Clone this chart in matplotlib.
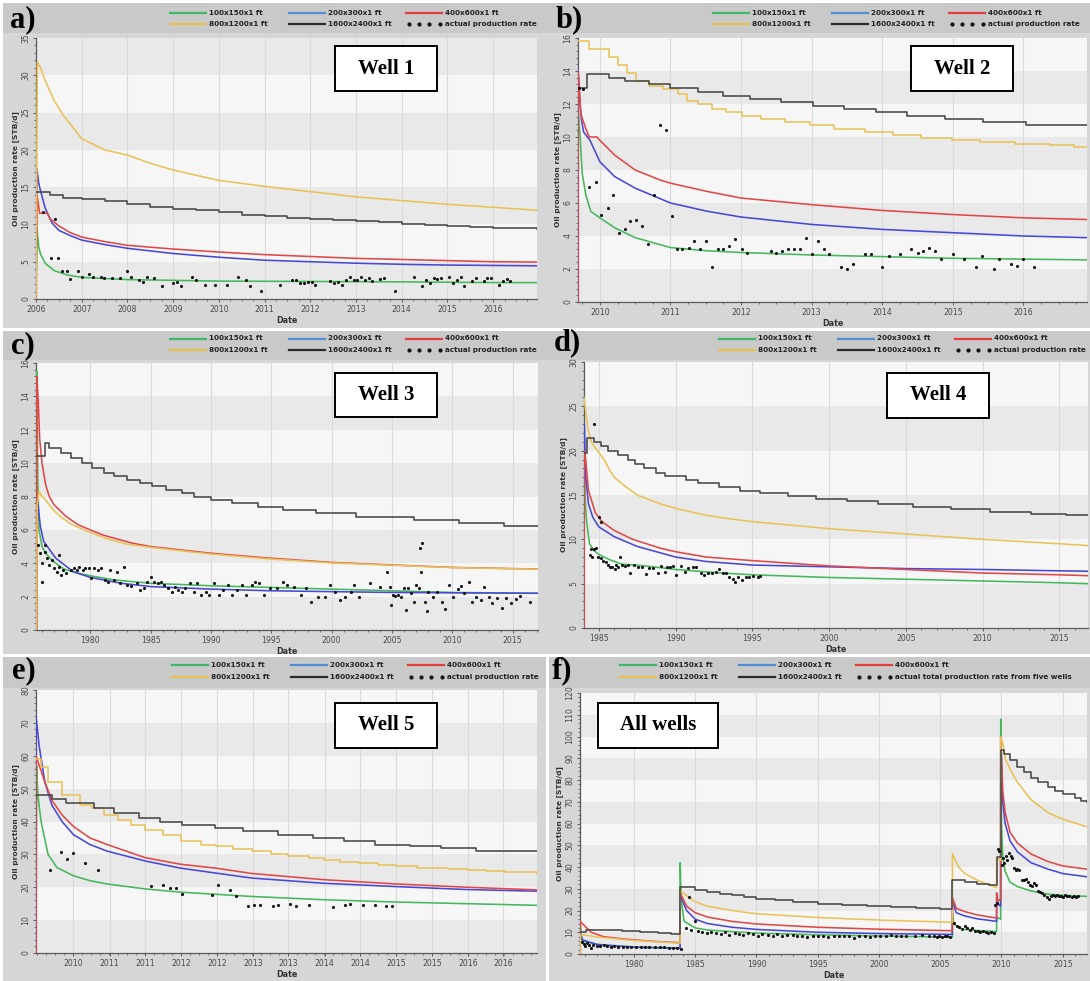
import matplotlib
matplotlib.use("Agg")
import matplotlib.pyplot as plt
from matplotlib.lines import Line2D
from matplotlib.patches import Rectangle
from matplotlib.ticker import MultipleLocator, FixedLocator, FixedFormatter

# ---------------------------------------------------------------------------
# Simulated oil production rate (STB/d) vs. time (decimal year) for five
# grid-block sizes, plus the measured production rate of each well.
# ---------------------------------------------------------------------------
GRID_SIZES = ["100x150x1 ft", "200x300x1 ft", "400x600x1 ft",
              "800x1200x1 ft", "1600x2400x1 ft"]
ACTUAL_WELL = "actual production rate"
ACTUAL_TOTAL = "actual total production rate from five wells"

# ---- Well 1 ----
W1_GREEN = [(2006.0, 0), (2006.02, 9.5), (2006.06, 7.0), (2006.1, 6.0), (2006.2, 4.8), (2006.4, 3.8),
            (2006.7, 3.2), (2007.0, 2.9), (2008.0, 2.6), (2009.0, 2.5), (2010.0, 2.4), (2012.0, 2.35),
            (2014.0, 2.3), (2016.0, 2.2), (2016.96, 2.2)]
W1_BLUE = [(2006.0, 0), (2006.02, 17.5), (2006.06, 15.5), (2006.1, 14.5), (2006.2, 12.2), (2006.35, 10.2),
           (2006.5, 9.2), (2006.75, 8.5), (2007.0, 7.9), (2007.5, 7.3), (2008.0, 6.8), (2009.0, 6.1),
           (2010.0, 5.6), (2011.0, 5.2), (2012.0, 5.0), (2013.0, 4.8), (2014.0, 4.65), (2015.0, 4.55),
           (2016.0, 4.5), (2016.96, 4.45)]
W1_RED = [(2006.0, 0), (2006.02, 14.0), (2006.08, 11.5), (2006.25, 11.5), (2006.3, 10.8), (2006.5, 9.8),
          (2006.75, 8.9), (2007.0, 8.3), (2007.5, 7.7), (2008.0, 7.2), (2009.0, 6.7), (2010.0, 6.3),
          (2011.0, 5.95), (2012.0, 5.7), (2013.0, 5.45), (2014.0, 5.3), (2015.0, 5.15), (2016.0, 5.0),
          (2016.96, 4.95)]
W1_YELLOW = [(2006.0, 0), (2006.03, 31.8), (2006.1, 31.0), (2006.2, 29.3), (2006.4, 26.6), (2006.6, 24.6),
             (2006.8, 23.1), (2007.0, 21.5), (2007.5, 20.0), (2008.0, 19.3), (2008.5, 18.2), (2009.0, 17.3),
             (2009.5, 16.6), (2010.0, 15.9), (2011.0, 15.1), (2012.0, 14.4), (2013.0, 13.7), (2014.0, 13.2),
             (2015.0, 12.7), (2016.0, 12.3), (2016.96, 11.9)]
W1_BLACK = [(2006.0, 14.3), (2006.3, 13.9), (2006.6, 13.6), (2007.0, 13.4), (2007.5, 13.1), (2008.0, 12.7),
            (2008.5, 12.4), (2009.0, 12.1), (2009.5, 11.9), (2010.0, 11.6), (2010.5, 11.3), (2011.0, 11.1),
            (2011.5, 10.9), (2012.0, 10.7), (2012.5, 10.6), (2013.0, 10.5), (2013.5, 10.3), (2014.0, 10.1),
            (2014.5, 9.95), (2015.0, 9.8), (2015.5, 9.65), (2016.0, 9.5), (2016.96, 9.4)]
W1_ACTUAL = [(2006.15, 11.7), (2006.32, 5.5), (2006.41, 10.7), (2006.49, 5.5), (2006.57, 3.7), (2006.67, 3.8),
             (2006.74, 2.7), (2006.92, 3.8), (2007.0, 2.9), (2007.16, 3.3), (2007.24, 2.9), (2007.42, 2.9),
             (2007.49, 2.8), (2007.66, 2.8), (2007.83, 2.8), (2008.0, 3.8), (2008.08, 2.9), (2008.25, 2.5),
             (2008.33, 2.3), (2008.42, 2.9), (2008.59, 2.8), (2008.75, 1.8), (2009.0, 2.2), (2009.09, 2.3),
             (2009.17, 1.8), (2009.42, 2.9), (2009.5, 2.5), (2009.69, 1.9), (2009.92, 1.9), (2010.18, 1.9),
             (2010.42, 2.9), (2010.59, 2.6), (2010.68, 1.8), (2010.93, 1.1), (2011.34, 1.9), (2011.6, 2.6),
             (2011.69, 2.5), (2011.77, 2.1), (2011.86, 2.1), (2011.94, 2.3), (2012.03, 2.3), (2012.11, 1.9),
             (2012.44, 2.4), (2012.51, 2.1), (2012.6, 2.3), (2012.69, 1.9), (2012.78, 2.5), (2012.86, 2.9),
             (2012.95, 2.5), (2013.03, 2.5), (2013.12, 2.9), (2013.19, 2.5), (2013.28, 2.8), (2013.36, 2.4),
             (2013.53, 2.7), (2013.61, 2.8), (2013.86, 1.1), (2014.28, 2.9), (2014.45, 1.8), (2014.54, 2.5),
             (2014.62, 2.2), (2014.7, 2.8), (2014.78, 2.7), (2014.87, 2.8), (2015.04, 2.9), (2015.12, 2.1),
             (2015.21, 2.5), (2015.29, 2.9), (2015.37, 1.8), (2015.54, 2.4), (2015.62, 2.8), (2015.79, 2.4),
             (2015.87, 2.8), (2015.96, 2.8), (2016.13, 1.9), (2016.21, 2.4), (2016.31, 2.7), (2016.38, 2.4)]

# ---- Well 2 ----
W2_GREEN = [(2009.69, 0), (2009.69, 12.0), (2009.72, 10.0), (2009.75, 7.8), (2009.8, 6.5), (2009.87, 5.5),
            (2010.0, 5.1), (2010.21, 4.5), (2010.5, 3.9), (2011.0, 3.3), (2011.52, 3.1), (2012.0, 3.0),
            (2013.0, 2.85), (2014.0, 2.75), (2015.0, 2.65), (2016.0, 2.6), (2016.9, 2.55)]
W2_BLUE = [(2009.69, 0), (2009.69, 14.2), (2009.72, 12.0), (2009.74, 11.0), (2009.77, 10.3), (2009.86, 9.8),
           (2010.0, 8.5), (2010.21, 7.6), (2010.5, 6.9), (2011.0, 6.0), (2011.52, 5.5), (2012.0, 5.15),
           (2013.0, 4.7), (2014.0, 4.4), (2015.0, 4.2), (2016.0, 4.0), (2016.9, 3.9)]
W2_RED = [(2009.69, 0), (2009.69, 14.0), (2009.73, 11.4), (2009.8, 10.5), (2009.85, 10.0), (2009.96, 10.0),
          (2010.0, 9.8), (2010.21, 8.9), (2010.5, 8.0), (2010.85, 7.4), (2011.0, 7.2), (2011.52, 6.7),
          (2012.0, 6.3), (2013.0, 5.9), (2014.0, 5.55), (2015.0, 5.3), (2016.0, 5.1), (2016.9, 5.0)]
W2_YELLOW = [(2009.69, 15.8), (2009.85, 15.35), (2010.13, 14.85), (2010.26, 14.35), (2010.38, 13.9),
             (2010.51, 13.4), (2010.7, 13.1), (2010.9, 12.9), (2011.1, 12.6), (2011.24, 12.2), (2011.39, 12.0),
             (2011.59, 11.7), (2011.78, 11.5), (2012.01, 11.3), (2012.28, 11.1), (2012.62, 10.9),
             (2012.97, 10.7), (2013.31, 10.5), (2013.76, 10.3), (2014.15, 10.1), (2014.55, 9.95),
             (2014.99, 9.8), (2015.38, 9.7), (2015.88, 9.6), (2016.37, 9.5), (2016.72, 9.4), (2016.9, 9.4)]
W2_BLACK = [(2009.69, 13.0), (2009.82, 13.8), (2010.13, 13.6), (2010.36, 13.4), (2010.7, 13.2),
            (2011.0, 12.95), (2011.39, 12.75), (2011.74, 12.5), (2012.13, 12.3), (2012.57, 12.1),
            (2013.02, 11.9), (2013.46, 11.7), (2013.91, 11.5), (2014.35, 11.3), (2014.89, 11.1),
            (2015.43, 10.9), (2016.03, 10.75), (2016.47, 10.7), (2016.9, 10.7)]
W2_ACTUAL = [(2009.7, 13.0), (2009.76, 12.9), (2009.85, 7.0), (2009.94, 7.3), (2010.02, 5.3), (2010.11, 5.7),
             (2010.18, 6.5), (2010.27, 4.2), (2010.35, 4.4), (2010.43, 4.9), (2010.51, 5.0), (2010.6, 4.6),
             (2010.68, 3.5), (2010.76, 6.5), (2010.85, 10.7), (2010.93, 10.4), (2011.02, 5.2), (2011.09, 3.2),
             (2011.17, 3.2), (2011.26, 3.3), (2011.34, 3.7), (2011.42, 3.2), (2011.5, 3.7), (2011.59, 2.1),
             (2011.67, 3.2), (2011.75, 3.2), (2011.83, 3.4), (2011.91, 3.8), (2012.01, 3.2), (2012.09, 3.0),
             (2012.43, 3.1), (2012.5, 3.0), (2012.58, 3.1), (2012.67, 3.2), (2012.75, 3.2), (2012.84, 3.2),
             (2012.92, 3.9), (2013.01, 2.9), (2013.09, 3.7), (2013.17, 3.2), (2013.25, 2.9), (2013.42, 2.1),
             (2013.5, 2.0), (2013.58, 2.3), (2013.75, 2.9), (2013.84, 2.9), (2014.0, 2.1), (2014.09, 2.8),
             (2014.25, 2.9), (2014.41, 3.2), (2014.5, 3.0), (2014.58, 3.1), (2014.66, 3.3), (2014.74, 3.1),
             (2014.83, 2.6), (2015.0, 2.9), (2015.16, 2.6), (2015.33, 2.1), (2015.41, 2.8), (2015.58, 2.0),
             (2015.66, 2.6), (2015.83, 2.3), (2015.91, 2.2), (2015.99, 2.6), (2016.15, 2.1)]

# ---- Well 3 ----
W3_GREEN = [(1975.55, 0), (1975.57, 15.5), (1975.65, 9.0), (1975.75, 6.0), (1976.0, 5.0), (1976.3, 4.6),
            (1976.8, 4.2), (1977.5, 3.8), (1978.0, 3.6), (1979.0, 3.4), (1980.0, 3.25), (1982.0, 3.0),
            (1985.0, 2.8), (1990.0, 2.65), (1995.0, 2.55), (2000.0, 2.45), (2005.0, 2.35), (2010.0, 2.25),
            (2017.1, 2.2)]
W3_BLUE = [(1975.55, 0), (1975.6, 8.0), (1975.86, 6.2), (1976.14, 5.3), (1977.14, 4.3), (1978.57, 3.5),
           (1980.0, 3.15), (1982.57, 2.8), (1985.0, 2.6), (1990.0, 2.45), (1995.0, 2.35), (2000.0, 2.3),
           (2005.0, 2.25), (2017.1, 2.2)]
W3_RED = [(1975.55, 0), (1975.57, 15.2), (1975.7, 13.5), (1975.8, 11.5), (1976.0, 10.0), (1976.3, 8.7),
          (1976.6, 8.0), (1977.0, 7.5), (1978.0, 6.8), (1979.0, 6.3), (1980.0, 6.0), (1981.0, 5.7),
          (1982.0, 5.5), (1983.5, 5.2), (1985.0, 5.0), (1987.5, 4.8), (1990.0, 4.6), (1992.5, 4.45),
          (1995.0, 4.3), (2000.0, 4.05), (2005.0, 3.9), (2010.0, 3.75), (2017.1, 3.65)]
W3_YELLOW = [(1975.55, 0), (1975.6, 7.5), (1975.75, 8.3), (1976.0, 8.0), (1976.3, 7.8), (1976.8, 7.3),
             (1977.5, 6.8), (1978.5, 6.3), (1979.5, 6.0), (1980.5, 5.7), (1981.5, 5.45), (1983.0, 5.15),
             (1985.0, 4.95), (1987.5, 4.75), (1990.0, 4.55), (1995.0, 4.25), (2000.0, 4.02), (2005.0, 3.88),
             (2010.0, 3.74), (2017.1, 3.64)]
W3_BLACK = [(1975.55, 10.4), (1976.23, 11.2), (1976.57, 10.9), (1977.57, 10.6), (1978.43, 10.3),
            (1979.29, 10.0), (1980.14, 9.7), (1981.14, 9.4), (1982.0, 9.2), (1983.0, 9.0), (1984.14, 8.8),
            (1985.14, 8.6), (1986.29, 8.4), (1987.57, 8.2), (1988.57, 8.0), (1990.0, 7.8), (1991.71, 7.6),
            (1993.86, 7.4), (1996.0, 7.2), (1998.71, 7.0), (2002.0, 6.8), (2006.86, 6.6), (2010.57, 6.4),
            (2014.29, 6.25), (2017.1, 6.25)]
W3_ACTUAL = [(1975.63, 5.1), (1975.8, 4.6), (1976.0, 4.0), (1976.02, 2.9), (1976.23, 5.1), (1976.25, 4.7),
             (1976.43, 4.3), (1976.57, 3.9), (1976.8, 4.2), (1977.0, 3.7), (1977.2, 3.5), (1977.37, 3.8),
             (1977.43, 4.5), (1977.57, 3.3), (1977.71, 3.6), (1978.0, 3.4), (1978.43, 3.6), (1978.63, 3.7),
             (1978.86, 3.6), (1979.09, 3.8), (1979.37, 3.6), (1979.57, 3.7), (1979.86, 3.7), (1980.06, 3.1),
             (1980.34, 3.7), (1980.63, 3.6), (1980.91, 3.7), (1981.2, 3.0), (1981.43, 2.9), (1981.66, 3.6),
             (1981.94, 3.0), (1982.23, 3.5), (1982.43, 2.8), (1982.8, 3.8), (1983.0, 2.7), (1983.37, 2.65),
             (1983.86, 2.8), (1984.14, 2.4), (1984.43, 2.5), (1984.71, 2.9), (1985.03, 3.2), (1985.29, 2.9),
             (1985.57, 2.8), (1985.86, 2.9), (1986.14, 2.7), (1986.43, 2.5), (1986.74, 2.3), (1987.03, 2.6),
             (1987.29, 2.4), (1987.57, 2.3), (1987.86, 2.5), (1988.29, 2.8), (1988.57, 2.3), (1988.86, 2.8),
             (1989.2, 2.1), (1989.57, 2.3), (1989.86, 2.1), (1990.29, 2.8), (1990.63, 2.1), (1991.0, 2.4),
             (1991.43, 2.7), (1991.77, 2.1), (1992.14, 2.4), (1992.57, 2.7), (1992.91, 2.1), (1993.37, 2.7),
             (1993.66, 2.9), (1994.0, 2.8), (1994.43, 2.1), (1994.86, 2.5), (1995.43, 2.5), (1996.0, 2.9),
             (1996.29, 2.7), (1996.86, 2.6), (1997.43, 2.1), (1997.86, 2.5), (1998.29, 1.7), (1998.86, 2.0),
             (1999.43, 2.0), (1999.86, 2.7), (2000.29, 2.3), (2000.71, 1.8), (2001.14, 2.0), (2001.57, 2.3),
             (2001.86, 2.7), (2002.29, 2.0), (2003.14, 2.8), (2004.0, 2.6), (2004.57, 3.5), (2004.8, 2.6),
             (2004.91, 1.5), (2005.09, 2.1), (2005.29, 2.05), (2005.49, 2.1), (2005.71, 1.95), (2006.0, 2.5),
             (2006.14, 1.2), (2006.29, 2.5), (2006.57, 2.2), (2006.8, 1.65), (2007.0, 2.7), (2007.2, 2.5),
             (2007.29, 4.9), (2007.37, 3.5), (2007.49, 5.2), (2007.71, 1.65), (2007.94, 1.15), (2008.0, 2.3),
             (2008.43, 2.0), (2008.71, 2.3), (2009.14, 1.7), (2009.43, 1.25), (2009.71, 2.7), (2010.06, 2.0),
             (2010.43, 2.45), (2010.71, 2.65), (2011.0, 2.2), (2011.37, 2.9), (2011.66, 1.65), (2011.94, 2.0),
             (2012.34, 1.8), (2012.63, 2.6), (2013.0, 2.0), (2013.29, 1.6), (2013.71, 1.9), (2014.14, 1.3),
             (2014.43, 1.9), (2014.86, 1.6), (2015.29, 1.85), (2015.57, 2.05), (2016.43, 1.7)]

# ---- Well 4 ----
W4_GREEN = [(1984.03, 0), (1984.05, 18.0), (1984.12, 14.0), (1984.2, 12.0), (1984.39, 9.5), (1984.7, 8.7),
            (1985.0, 8.3), (1985.7, 7.7), (1986.5, 7.2), (1988.0, 7.0), (1990.0, 6.6), (1993.0, 6.2),
            (1995.0, 6.0), (2000.0, 5.7), (2005.0, 5.5), (2010.0, 5.3), (2015.0, 5.1), (2016.86, 5.0)]
W4_BLUE = [(1984.03, 0), (1984.05, 23.0), (1984.14, 17.0), (1984.32, 14.0), (1984.6, 12.5), (1985.0, 11.4),
           (1986.0, 10.3), (1987.5, 9.2), (1990.0, 8.0), (1992.0, 7.5), (1995.0, 7.1), (2000.0, 6.9),
           (2005.0, 6.7), (2010.0, 6.6), (2015.0, 6.45), (2016.86, 6.4)]
W4_RED = [(1984.03, 0), (1984.05, 20.0), (1984.14, 19.0), (1984.32, 15.5), (1984.77, 13.0), (1985.2, 12.0),
          (1986.0, 11.0), (1987.2, 10.0), (1989.0, 9.0), (1990.0, 8.6), (1992.0, 8.0), (1995.0, 7.6),
          (2000.0, 7.0), (2005.0, 6.6), (2010.0, 6.2), (2015.0, 6.0), (2016.86, 5.9)]
W4_YELLOW = [(1984.03, 26.0), (1984.14, 24.5), (1984.3, 22.3), (1984.5, 21.0), (1984.77, 20.3),
             (1985.34, 19.0), (1985.7, 17.8), (1986.0, 17.0), (1986.7, 16.0), (1987.5, 15.0), (1989.0, 14.0),
             (1990.0, 13.5), (1992.0, 12.7), (1994.0, 12.2), (1995.0, 12.0), (2000.0, 11.2), (2005.0, 10.6),
             (2010.0, 10.0), (2015.0, 9.5), (2016.86, 9.3)]
W4_BLACK = [(1984.03, 19.7), (1984.21, 21.4), (1984.66, 21.0), (1985.11, 20.5), (1985.57, 20.0),
            (1986.24, 19.5), (1986.92, 19.0), (1987.38, 18.5), (1987.94, 18.0), (1988.73, 17.5),
            (1989.3, 17.1), (1990.66, 16.7), (1991.45, 16.3), (1992.81, 15.9), (1994.16, 15.5),
            (1995.52, 15.2), (1997.33, 14.9), (1999.14, 14.6), (2001.18, 14.3), (2003.21, 14.0),
            (2005.48, 13.7), (2007.96, 13.4), (2010.45, 13.1), (2013.17, 12.9), (2015.43, 12.8),
            (2016.86, 12.8)]
W4_ACTUAL = [(1984.39, 8.2), (1984.48, 8.9), (1984.57, 8.0), (1984.66, 8.9), (1984.71, 23.0), (1984.82, 9.0),
             (1984.93, 8.0), (1985.0, 12.5), (1985.11, 7.85), (1985.16, 11.9), (1985.29, 7.6), (1985.45, 7.5),
             (1985.57, 7.1), (1985.7, 6.85), (1985.84, 6.85), (1986.02, 6.6), (1986.13, 7.1), (1986.24, 6.9),
             (1986.36, 8.0), (1986.52, 7.1), (1986.7, 7.0), (1986.88, 7.1), (1987.04, 6.15), (1987.26, 7.1),
             (1987.56, 6.9), (1987.83, 6.9), (1988.05, 6.1), (1988.28, 6.8), (1988.55, 6.8), (1988.85, 6.15),
             (1989.07, 7.0), (1989.3, 6.35), (1989.41, 6.9), (1989.64, 6.9), (1989.82, 7.0), (1990.05, 6.0),
             (1990.36, 7.0), (1990.59, 6.35), (1990.81, 6.8), (1991.11, 6.85), (1991.33, 6.85), (1991.63, 6.15),
             (1991.86, 6.0), (1992.13, 6.15), (1992.35, 6.15), (1992.62, 6.35), (1992.85, 6.6), (1993.08, 6.15),
             (1993.26, 6.25), (1993.48, 5.8), (1993.71, 5.5), (1993.89, 5.2), (1994.05, 5.8), (1994.32, 5.45),
             (1994.55, 5.7), (1994.8, 5.7), (1995.02, 5.9), (1995.34, 5.8), (1995.52, 5.9)]

# ---- Well 5 ----
W5_GREEN = [(2009.0, 0), (2009.01, 57), (2009.03, 48), (2009.08, 40), (2009.19, 30), (2009.33, 26),
            (2009.59, 23.5), (2009.85, 22), (2010.12, 21), (2010.72, 19.5), (2011.28, 18.5), (2012.4, 17.2),
            (2013.54, 16.2), (2014.68, 15.5), (2015.8, 15.0), (2016.9, 14.5)]
W5_BLUE = [(2009.0, 0), (2009.0, 72), (2009.05, 63), (2009.14, 52), (2009.25, 45), (2009.41, 40),
           (2009.59, 36), (2009.85, 33), (2010.12, 31), (2010.72, 28), (2011.28, 25.8), (2011.84, 24.3),
           (2012.4, 22.8), (2013.54, 21.2), (2014.68, 20.2), (2015.8, 19.3), (2016.9, 18.8)]
W5_RED = [(2009.0, 0), (2009.0, 60), (2009.14, 52), (2009.25, 46.5), (2009.41, 42), (2009.59, 38.5),
          (2009.85, 35), (2010.12, 33), (2010.72, 29), (2011.28, 27), (2011.84, 25.8), (2012.4, 24.2),
          (2013.54, 22.3), (2014.68, 21.0), (2015.8, 20.0), (2016.9, 19.2)]
W5_YELLOW = [(2009.0, 59), (2009.08, 56.5), (2009.19, 52), (2009.41, 48), (2009.7, 45), (2009.88, 44),
             (2010.07, 42), (2010.29, 40.5), (2010.5, 39), (2010.72, 37.5), (2011.0, 35.8), (2011.28, 34.2),
             (2011.6, 33), (2011.84, 32.4), (2012.1, 31.5), (2012.4, 30.9), (2012.7, 30.0), (2012.97, 29.4),
             (2013.3, 28.8), (2013.54, 28.2), (2013.8, 27.7), (2014.1, 27.3), (2014.4, 26.8), (2014.68, 26.5),
             (2015.0, 26.0), (2015.25, 25.8), (2015.5, 25.4), (2015.8, 25.2), (2016.1, 24.8), (2016.4, 24.5),
             (2016.9, 24.1)]
W5_BLACK = [(2009.0, 48), (2009.25, 46.8), (2009.47, 45.5), (2009.91, 44), (2010.23, 42.5), (2010.62, 41),
            (2010.95, 40), (2011.3, 39), (2011.83, 38), (2012.26, 37), (2012.81, 36), (2013.36, 35),
            (2013.85, 34), (2014.35, 33), (2014.9, 32.5), (2015.39, 32), (2015.94, 31), (2016.9, 31)]
W5_ACTUAL = [(2009.22, 25.1), (2009.4, 30.6), (2009.49, 28.6), (2009.59, 30.4), (2009.78, 27.3),
             (2009.98, 25.3), (2010.82, 20.5), (2011.01, 20.7), (2011.11, 19.9), (2011.21, 19.9),
             (2011.3, 17.9), (2011.78, 17.7), (2011.87, 20.8), (2012.06, 19.2), (2012.15, 17.4),
             (2012.34, 14.2), (2012.44, 14.6), (2012.54, 14.6), (2012.73, 14.4), (2012.81, 14.6),
             (2013.0, 14.9), (2013.1, 14.4), (2013.3, 14.6), (2013.68, 14.0), (2013.87, 14.7), (2013.95, 14.8),
             (2014.15, 14.7), (2014.34, 14.6), (2014.52, 14.4), (2014.62, 14.2)]
W5_TICKS = [2009.59, 2010.16, 2010.72, 2011.29, 2011.85, 2012.42, 2012.98, 2013.55, 2014.11,
            2014.68, 2015.24, 2015.81, 2016.37]
W5_TICK_LABELS = ["2010", "2011", "2011", "2012", "2012", "2013", "2013", "2014", "2014",
                  "2015", "2015", "2016", "2016"]

# ---- All wells (field total) ----
ALL_GREEN = [(1975.6, 0), (1975.62, 15), (1975.75, 6), (1977.0, 4.5), (1978.0, 4.0), (1980.0, 3.3),
             (1982.0, 3.0), (1983.77, 2.8), (1983.78, 42), (1983.85, 25), (1984.1, 15), (1985.0, 12),
             (1986.0, 11), (1988.0, 10.3), (1990.0, 9.6), (1995.0, 8.8), (2000.0, 8.3), (2005.0, 7.8),
             (2005.99, 7.7), (2006.0, 18), (2006.1, 14), (2006.5, 12), (2007.0, 11.3), (2008.0, 10.8),
             (2009.6, 10.3), (2009.61, 17), (2009.93, 16), (2009.94, 108), (2010.0, 60), (2010.1, 45),
             (2010.3, 38), (2010.7, 33), (2011.3, 31), (2012.4, 29), (2013.8, 27.5), (2015.0, 27),
             (2016.98, 26.5)]
ALL_BLUE = [(1975.6, 0), (1975.62, 10), (1975.8, 6.5), (1977.0, 4.3), (1980.0, 3.1), (1983.77, 2.6),
            (1983.78, 27), (1984.3, 20), (1985.0, 16), (1986.0, 14), (1988.0, 12.3), (1990.0, 11.3),
            (1995.0, 10.0), (2000.0, 9.4), (2005.99, 9.0), (2006.0, 25), (2006.3, 19), (2007.0, 17.5),
            (2008.0, 16.2), (2009.6, 15.0), (2009.61, 28), (2009.7, 23), (2009.93, 22), (2009.94, 100),
            (2010.1, 70), (2010.3, 60), (2010.7, 52), (2011.3, 47), (2012.4, 42), (2013.8, 39),
            (2015.0, 37), (2016.98, 35.5)]
ALL_RED = [(1975.6, 0), (1975.62, 15), (1976.5, 10), (1977.5, 8), (1979.0, 7), (1980.0, 6.5),
           (1982.0, 5.7), (1983.77, 5.2), (1983.78, 28), (1984.3, 22), (1985.0, 19), (1986.0, 17),
           (1988.0, 15), (1990.0, 13.8), (1995.0, 12.3), (2000.0, 11.4), (2005.99, 10.7), (2006.0, 26),
           (2006.3, 21), (2007.0, 19.5), (2008.0, 18), (2009.6, 16.5), (2009.61, 28), (2009.7, 25),
           (2009.93, 24.5), (2009.94, 100), (2010.1, 75), (2010.3, 65), (2010.7, 56), (2011.3, 51),
           (2012.4, 46), (2013.8, 42.5), (2015.0, 40.5), (2016.98, 39)]
ALL_YELLOW = [(1975.6, 0), (1975.65, 9), (1977.0, 7.8), (1980.0, 6.2), (1983.77, 5.0), (1983.78, 29),
              (1984.5, 26), (1985.0, 24), (1986.0, 22), (1988.0, 20), (1990.0, 18.5), (1995.0, 16.8),
              (2000.0, 15.6), (2005.99, 14.6), (2006.0, 46), (2006.5, 40), (2007.0, 37), (2008.0, 34),
              (2009.6, 30.5), (2009.61, 44), (2009.93, 43), (2009.94, 100), (2010.15, 96), (2010.3, 90),
              (2010.7, 85), (2011.3, 79), (2012.4, 71), (2013.8, 65), (2015.0, 62), (2016.98, 58.5)]
ALL_BLACK = [(1975.6, 10), (1976.1, 11.2), (1977.5, 10.9), (1979.0, 10.5), (1980.5, 10.1), (1982.0, 9.7),
             (1983.0, 9.3), (1983.77, 30.6), (1985.0, 29.6), (1986.0, 28.6), (1987.0, 27.8), (1988.0, 27.0),
             (1989.0, 26.2), (1990.0, 25.5), (1991.5, 24.6), (1993.0, 23.8), (1995.0, 23.0), (1997.0, 22.5),
             (1999.0, 22.0), (2001.0, 21.5), (2003.0, 21.1), (2005.0, 20.7), (2005.99, 34.0), (2007.0, 33.2),
             (2008.0, 32.3), (2009.0, 31.6), (2009.6, 44.5), (2009.94, 94.0), (2010.2, 92.0), (2010.7, 89.0),
             (2011.3, 86.0), (2011.8, 83.5), (2012.4, 81.0), (2013.0, 79.0), (2013.8, 77.0), (2014.4, 75.0),
             (2015.0, 73.5), (2016.0, 71.5), (2016.5, 70.5), (2016.98, 70.0)]
ALL_ACTUAL = [(1975.75, 5.4), (1975.9, 4.6), (1976.03, 3.8), (1976.18, 5.1), (1976.3, 4.3), (1976.46, 2.8),
              (1976.69, 4.3), (1976.97, 3.8), (1977.25, 3.5), (1977.54, 4.0), (1977.82, 3.5), (1978.1, 3.4),
              (1978.39, 3.5), (1978.73, 3.4), (1979.07, 3.2), (1979.43, 3.4), (1979.8, 3.2), (1980.2, 3.4),
              (1980.57, 3.1), (1980.93, 3.2), (1981.27, 3.1), (1981.7, 3.2), (1982.12, 3.4), (1982.46, 3.1),
              (1982.86, 2.8), (1983.2, 2.6), (1983.54, 2.8), (1983.82, 2.3),
              (1984.25, 12.0), (1984.53, 26.0), (1984.67, 11.2), (1984.96, 15.0), (1985.24, 10.4),
              (1985.58, 10.0), (1985.95, 9.7), (1986.32, 10.3), (1986.71, 9.7), (1987.08, 9.3), (1987.45, 10.0),
              (1987.79, 8.9), (1988.22, 9.7), (1988.58, 9.3), (1988.92, 8.9), (1989.35, 9.7), (1989.72, 9.2),
              (1990.11, 8.4), (1990.48, 9.3), (1990.91, 8.9), (1991.33, 8.4), (1991.7, 9.2), (1992.1, 8.4),
              (1992.52, 8.7), (1992.95, 8.9), (1993.31, 8.1), (1993.74, 8.4), (1994.16, 7.8), (1994.59, 8.4),
              (1995.01, 8.1), (1995.44, 8.4), (1995.86, 7.8), (1996.29, 8.4), (1996.71, 8.1), (1997.14, 8.4),
              (1997.56, 8.1), (1997.99, 7.4), (1998.41, 8.1), (1998.84, 8.4), (1999.26, 7.8), (1999.69, 8.1),
              (2000.11, 8.4), (2000.54, 8.1), (2000.96, 8.6), (2001.39, 8.1), (2001.81, 8.4), (2002.24, 8.1),
              (2002.95, 8.4), (2003.51, 8.6), (2004.08, 8.4), (2004.5, 8.1), (2004.73, 7.8), (2004.93, 8.4),
              (2005.13, 7.8), (2005.35, 8.1), (2005.58, 8.4), (2005.78, 7.8),
              (2006.15, 14.3), (2006.35, 13.0), (2006.54, 12.4), (2006.77, 11.5), (2007.0, 13.0),
              (2007.2, 12.0), (2007.39, 10.9), (2007.62, 12.0), (2007.85, 10.4), (2008.05, 10.7),
              (2008.24, 10.0), (2008.47, 10.4), (2008.7, 10.0), (2008.92, 9.7), (2009.15, 10.1), (2009.38, 9.7),
              (2009.49, 22.5), (2009.6, 23.4), (2009.69, 48.4), (2009.83, 47.2), (2010.03, 41.1),
              (2010.11, 44.1), (2010.23, 41.8), (2010.34, 45.2), (2010.45, 43.4), (2010.59, 46.4),
              (2010.74, 45.2), (2010.88, 44.1), (2011.02, 39.5), (2011.16, 38.8), (2011.3, 39.1),
              (2011.44, 38.5), (2011.64, 33.9), (2011.81, 34.2), (2011.98, 34.5), (2012.15, 33.1),
              (2012.32, 31.9), (2012.49, 31.1), (2012.66, 32.6), (2012.83, 31.9), (2013.0, 28.8),
              (2013.17, 28.4), (2013.34, 28.0), (2013.51, 27.3), (2013.68, 26.2), (2013.85, 25.3),
              (2014.02, 26.8), (2014.19, 27.3), (2014.36, 26.5), (2014.53, 27.0), (2014.7, 26.5),
              (2014.87, 26.8), (2015.04, 26.2), (2015.21, 27.0), (2015.38, 26.5), (2015.55, 26.8),
              (2015.72, 26.2), (2015.89, 26.5), (2016.06, 26.2), (2016.23, 26.8)]

# ---------------------------------------------------------------------------
# Styling
# ---------------------------------------------------------------------------
W, H = 1090, 981
LINE_COLORS = ["#45b85a", "#4848d6", "#e04848", "#e9c257", "#474747"]
LEGEND_COLORS = ["#3db76a", "#4f8fd6", "#e23e3e", "#e8c050", "#2b2b2b"]
HEADER_GRAY = "#c9c9c9"
BODY_GRAY = "#d6d6d6"
BAND_LIGHT = "#f6f6f6"
BAND_DARK = "#e9e9e9"
SERIF = ["Liberation Serif", "DejaVu Serif"]

fig = plt.figure(figsize=(W / 100, H / 100), dpi=100, facecolor="white")


def px_rect(x0, y0, x1, y1, **kw):
    """Rectangle given in image pixels (origin top-left) on the figure."""
    r = Rectangle((x0 / W, 1 - y1 / H), (x1 - x0) / W, (y1 - y0) / H,
                  transform=fig.transFigure, **kw)
    fig.patches.append(r)
    return r


# gray panel backgrounds: (top, bottom, header bottom)
for top, bot, hdr in [(3, 328, 33), (331, 654, 360), (657, 981, 688)]:
    px_rect(3, top, W, bot, facecolor=BODY_GRAY, edgecolor="none", zorder=-2)
    px_rect(3, top, W, hdr, facecolor=HEADER_GRAY, edgecolor="none", zorder=-1)
px_rect(546, 657, 549, 981, facecolor="white", edgecolor="none", zorder=-1)

PANELS = [
    dict(tag="a)", tag_xy=(10, 27), title="Well 1", box=(335, 46, 437, 91),
         rect=(36, 38, 537, 299), legend_x=170, legend_y=(12.7, 24),
         curves=[W1_GREEN, W1_BLUE, W1_RED, W1_YELLOW, W1_BLACK], actual=W1_ACTUAL,
         stepped=(4,), xlim=(2006.0, 2016.96), xmajor=1, xminor=0.25,
         ylim=(0, 35), ystep=5, actual_label=ACTUAL_WELL),
    dict(tag="b)", tag_xy=(556, 27), title="Well 2", box=(911, 46, 1013, 91),
         rect=(578, 38, 1087, 302), legend_x=713, legend_y=(12.7, 24),
         curves=[W2_GREEN, W2_BLUE, W2_RED, W2_YELLOW, W2_BLACK], actual=W2_ACTUAL,
         stepped=(3, 4), xlim=(2009.69, 2016.9), xmajor=1, xminor=0.25,
         ylim=(0, 16), ystep=2, actual_label=ACTUAL_WELL),
    dict(tag="c)", tag_xy=(11, 353), title="Well 3", box=(335, 373, 437, 417),
         rect=(36, 363, 538, 630), legend_x=170, legend_y=(338.5, 350),
         curves=[W3_GREEN, W3_BLUE, W3_RED, W3_YELLOW, W3_BLACK], actual=W3_ACTUAL,
         stepped=(4,), xlim=(1975.5, 2017.1), xmajor=5, xminor=1,
         ylim=(0, 16), ystep=2, actual_label=ACTUAL_WELL),
    dict(tag="d)", tag_xy=(554, 350), title="Well 4", box=(887, 373, 989, 418),
         rect=(584, 362, 1088, 628), legend_x=719, legend_y=(338.5, 350),
         curves=[W4_GREEN, W4_BLUE, W4_RED, W4_YELLOW, W4_BLACK], actual=W4_ACTUAL,
         stepped=(4,), xlim=(1984.03, 2016.86), xmajor=5, xminor=1,
         ylim=(0, 30), ystep=5, actual_label=ACTUAL_WELL),
    dict(tag="e)", tag_xy=(12, 678), title="Well 5", box=(335, 703, 437, 748),
         rect=(36, 690, 537, 953), legend_x=172, legend_y=(665, 677),
         curves=[W5_GREEN, W5_BLUE, W5_RED, W5_YELLOW, W5_BLACK], actual=W5_ACTUAL,
         stepped=(3, 4), xlim=(2009.0, 2016.9), xticks=(W5_TICKS, W5_TICK_LABELS), xminor=0.1415,
         ylim=(0, 80), ystep=10, actual_label=ACTUAL_WELL),
    dict(tag="f)", tag_xy=(552, 678), title="All wells", box=(598, 703, 718, 748),
         rect=(580, 693, 1087, 954), legend_x=620, legend_y=(665, 677),
         curves=[ALL_GREEN, ALL_BLUE, ALL_RED, ALL_YELLOW, ALL_BLACK], actual=ALL_ACTUAL,
         stepped=(4,), xlim=(1975.6, 2016.98), xmajor=5, xminor=1,
         ylim=(0, 120), ystep=10, actual_label=ACTUAL_TOTAL),
]

LEGEND_COL_OFFSETS = [0, 119, 236]
TICK_COLOR = "#4a4a4a"


def draw_panel(p):
    l, t, r, b = p["rect"]
    ax = fig.add_axes([l / W, 1 - b / H, (r - l) / W, (b - t) / H])
    ax.set_facecolor(BAND_LIGHT)
    y0, y1 = p["ylim"]
    dy = p["ystep"]
    nb = round((y1 - y0) / dy)
    for i in range(0, nb, 2):
        ax.axhspan(y0 + i * dy, y0 + (i + 1) * dy, color=BAND_DARK, lw=0, zorder=0)

    for k, pts in enumerate(p["curves"]):
        tt = [v[0] for v in pts]
        qq = [v[1] for v in pts]
        ax.plot(tt, qq, color=LINE_COLORS[k], lw=1.15, zorder=3,
                drawstyle="steps-post" if k in p["stepped"] else "default")
    ta = [v[0] for v in p["actual"]]
    qa = [v[1] for v in p["actual"]]
    ax.scatter(ta, qa, s=5, color="#111111", linewidths=0, zorder=5)

    ax.set_xlim(*p["xlim"])
    ax.set_ylim(y0, y1)
    if "xticks" in p:
        pos, labs = p["xticks"]
        ax.xaxis.set_major_locator(FixedLocator(pos))
        ax.xaxis.set_major_formatter(FixedFormatter(labs))
    else:
        ax.xaxis.set_major_locator(MultipleLocator(p["xmajor"]))
    ax.xaxis.set_minor_locator(MultipleLocator(p["xminor"]))
    ax.yaxis.set_major_locator(MultipleLocator(dy))
    ax.yaxis.set_minor_locator(MultipleLocator(dy / 5))

    ax.grid(axis="x", which="major", color="#dadada", lw=0.8, zorder=1)
    ax.set_axisbelow(True)
    for s in ("top", "right"):
        ax.spines[s].set_visible(False)
    for s in ("left", "bottom"):
        ax.spines[s].set_color("#5a5a5a")
        ax.spines[s].set_linewidth(0.9)
    ax.tick_params(which="major", labelsize=5.6, colors=TICK_COLOR, length=2.5, width=0.6, pad=1.5)
    ax.tick_params(which="minor", colors=TICK_COLOR, length=1.2, width=0.5)
    ax.tick_params(axis="y", labelrotation=90)
    for lab in ax.get_yticklabels():
        lab.set_va("center")
    ax.set_xlabel("Date", fontsize=5.8, fontweight="bold", color="#333333", labelpad=1.5)
    ax.set_ylabel("Oil production rate [STB/d]", fontsize=5.4, fontweight="bold",
                  color="#333333", labelpad=2)

    # panel tag
    tx, ty = p["tag_xy"]
    fig.text(tx / W, 1 - ty / H, p["tag"], fontsize=22, fontweight="bold", family=SERIF,
             ha="left", va="baseline", zorder=8)

    # well title box
    bx0, by0, bx1, by1 = p["box"]
    px_rect(bx0, by0, bx1, by1, facecolor="white", edgecolor="black", lw=1.4, zorder=6)
    fig.text((bx0 + bx1) / 2 / W, 1 - (by0 + by1) / 2 / H, p["title"], fontsize=15,
             fontweight="bold", family=SERIF, ha="center", va="center", zorder=7)

    # legend in the header band
    labels = GRID_SIZES + [p["actual_label"]]
    for k, lab in enumerate(labels):
        row, col = divmod(k, 3)
        x = p["legend_x"] + LEGEND_COL_OFFSETS[col]
        y = p["legend_y"][row]
        if k < 5:
            fig.add_artist(Line2D([x / W, (x + 36) / W], [1 - y / H, 1 - y / H],
                                  transform=fig.transFigure, color=LEGEND_COLORS[k], lw=1.6))
        else:
            fig.add_artist(Line2D([(x + d) / W for d in (3, 13, 23, 34)], [1 - y / H] * 4,
                                  transform=fig.transFigure, ls="none", marker="o", ms=2.0,
                                  color="#111111"))
        fig.text((x + 39) / W, 1 - y / H, lab, fontsize=5.2, fontweight="bold",
                 color="#222222", ha="left", va="center")
    return ax


for panel in PANELS:
    draw_panel(panel)

fig.savefig("out.png", dpi=100, facecolor=fig.get_facecolor())
